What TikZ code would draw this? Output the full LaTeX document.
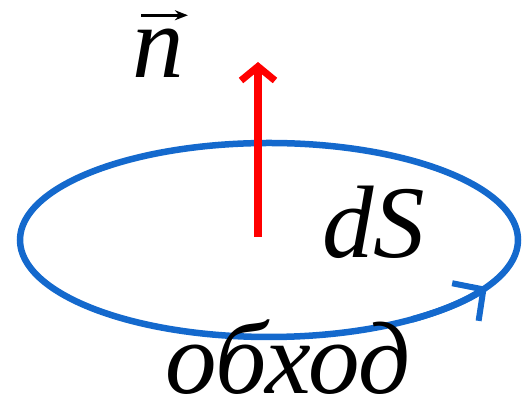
\documentclass[tikz,border=0pt]{standalone}
\usepackage{fontspec}
\setmainfont{Liberation Serif}
\usepackage{tikz}
\usetikzlibrary{arrows.meta, positioning}
\definecolor{loopblue}{RGB}{20,105,205}

\begin{document}
\begin{tikzpicture}[x=1pt, y=1pt, >=Stealth,
    lbl/.style={inner sep=0pt, font=\fontsize{103}{103}\selectfont\itshape},
    loop/.style={loopblue, line width=6.5pt},
    normal/.style={red, line width=8pt, -{Straight Barb[length=14pt 0, width=34pt 0, line width=7pt]}}]
  \useasboundingbox (0,0) rectangle (525,406);
  % Contour around the area element
  \coordinate (c) at (269,166);
  \draw[loop] (c) ellipse [x radius=249, y radius=97];
  % direction of the walk, tip at -29 deg
  \draw[loop, -{Straight Barb[length=22pt 0, width=46pt 0, line width=6pt]}]
    (c) ++(-55:249 and 97) arc [start angle=-55, end angle=-29, x radius=249, y radius=97];
  % Normal vector
  \coordinate (o) at (258,169);
  \coordinate (ntip) at (258,344);
  \draw[normal] (o) -- (ntip);
  % Labels
  \node[lbl, anchor=base west] (nlab) at (132,328) {n};
  \draw[line width=2.5pt, -{Stealth[length=13pt, width=10pt]}]
    ([xshift=9pt, yshift=14pt]nlab.north west) -- ([xshift=4pt, yshift=14pt]nlab.north east);
  \node[lbl, anchor=base west] (dslab) at (322,148) {dS};
  \node[lbl, anchor=base west, text depth=0pt] (walk) at (165,12) {обход};
\end{tikzpicture}
\end{document}
